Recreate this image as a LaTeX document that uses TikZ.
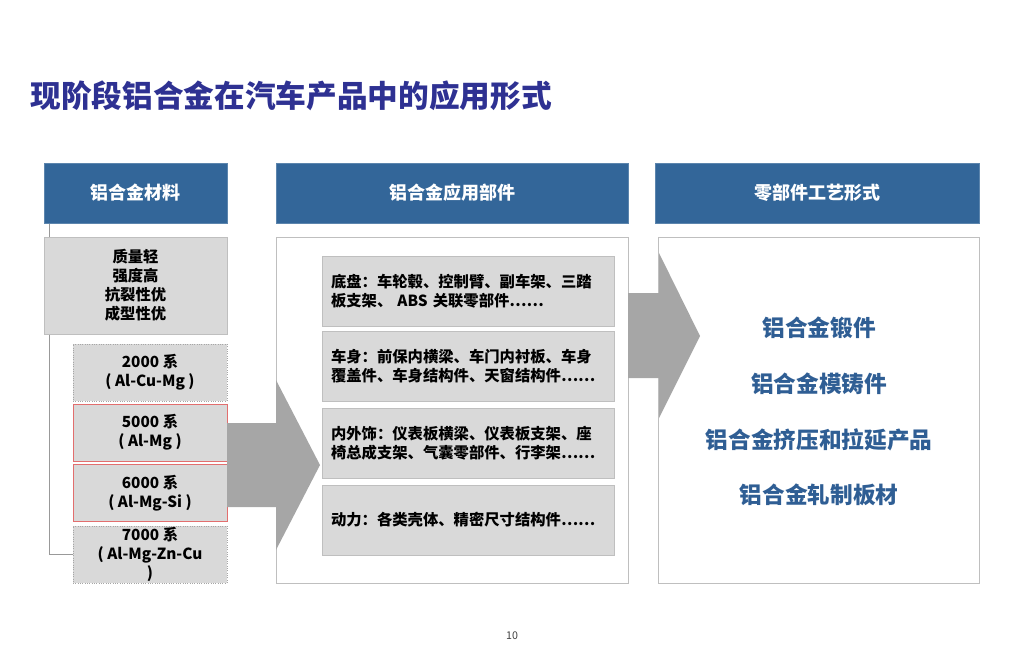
\documentclass[tikz,border=0pt]{standalone}
\usepackage{fontspec}
\setmainfont{Noto Sans CJK SC}
\usetikzlibrary{positioning}

\definecolor{hdrblue}{RGB}{51,102,153}
\definecolor{titleblue}{RGB}{46,49,146}
\definecolor{procblue}{RGB}{47,94,148}
\definecolor{boxgray}{RGB}{217,217,217}
\definecolor{edgegray}{RGB}{191,191,191}
\definecolor{arrowgray}{RGB}{166,166,166}
\definecolor{softred}{RGB}{226,110,110}

\tikzset{every picture/.style={line width=0.75pt}}
\tikzset{
  hdr/.style={draw=hdrblue!80!white, fill=hdrblue, text=white, minimum height=45pt, inner sep=0pt,
    font=\bfseries\fontsize{13.5}{16}\selectfont},
  graybox/.style={draw=edgegray, fill=boxgray, inner sep=0pt,
    font=\bfseries\fontsize{11.5}{14.25}\selectfont},
  serbox/.style={graybox, minimum width=115.5pt, minimum height=42.75pt, align=center},
  dotbox/.style={serbox, draw=gray!70, densely dotted},
  redbox/.style={serbox, draw=softred},
  panel/.style={draw=edgegray, fill=white, minimum height=259.5pt, inner sep=0pt},
  partbox/.style={graybox, minimum width=219pt, minimum height=52.5pt, inner xsep=6.75pt,
    text width=205.5pt, align=left},
  procText/.style={inner sep=0pt, text=procblue, font=\bfseries\fontsize{17}{20}\selectfont},
  treeline/.style={draw=gray!80, line width=0.6pt},
  bigarrow/.style={fill=arrowgray}
}

\begin{document}
\begin{tikzpicture}[x=0.75pt,y=0.75pt,yscale=-1,xscale=1]
\useasboundingbox (0,0) rectangle (1024,658);

% Text Node
\draw (30,96) node [anchor=west][inner sep=0pt][text=titleblue, font=\bfseries\fontsize{23}{28}\selectfont] (title) {现阶段铝合金在汽车产品中的应用形式};

%Shape: Rectangle [headers]
\node [hdr, minimum width=137.25pt] (hdrMat) at (135.5,193) {铝合金材料};
\node [hdr, minimum width=264pt] (hdrPart) at (452,193) {铝合金应用部件};
\node [hdr, minimum width=243pt] (hdrProc) at (817,193) {零部件工艺形式};

%Shape: Rectangle [material properties]
\node [graybox, minimum width=137.25pt, minimum height=72.75pt, align=center] (props) at (135.5,285.5) {质量轻\\强度高\\抗裂性优\\成型性优};

%Shape: Rectangle [alloy series]
\node [dotbox] (s2000) at (150,372.5) {2000 系\\( Al-Cu-Mg )};
\node [redbox] (s5000) at (150,432.5) {5000 系\\( Al-Mg )};
\node [redbox] (s6000) at (150,493) {6000 系\\( Al-Mg-Si )};
\node [dotbox] (s7000) at (150,554.5) {7000 系\\( Al-Mg-Zn-Cu\\)};

%Straight Lines [tree]
\draw [treeline] ([xshift=4.5pt]hdrMat.south west) -- ([xshift=4.5pt]props.north west);
\draw [treeline] ([xshift=4.5pt]props.south west) |- (s7000.west);

%Shape: Rectangle [parts panel]
\node [panel, minimum width=264pt] (partPanel) at (452,410) {};

%Shape: Block Arrow
\fill [bigarrow] (227,423) -- (276,423) -- (276,380) -- (320,465) -- (276,550) -- (276,507) -- (227,507) -- cycle;

%Shape: Rectangle [parts]
\node [partbox] (pChassis) at (468,291) {底盘：车轮毂、控制臂、副车架、三踏\\板支架、 ABS 关联零部件……};
\node [partbox] (pBody) at (468,366.5) {车身：前保内横梁、车门内衬板、车身\\覆盖件、车身结构件、天窗结构件……};
\node [partbox] (pTrim) at (468,443) {内外饰：仪表板横梁、仪表板支架、座\\椅总成支架、气囊零部件、行李架……};
\node [partbox] (pPower) at (468,520) {动力：各类壳体、精密尺寸结构件……};

%Shape: Rectangle [process panel]
\node [panel, minimum width=240.75pt] (procPanel) at (818.5,410) {};

%Shape: Block Arrow
\fill [bigarrow] (628,293) -- (659,293) -- (659,253) -- (700,336) -- (659,418) -- (659,378) -- (628,378) -- cycle;

% Text Node
\node [procText] (forge) at (819,328) {铝合金锻件};
\node [procText] (cast) at (819,384) {铝合金模铸件};
\node [procText] (extrude) at (819,440) {铝合金挤压和拉延产品};
\node [procText] (roll) at (819,495) {铝合金轧制板材};

% Text Node
\node [inner sep=0pt, text=black!75, font=\fontsize{8}{10}\selectfont] (pageNo) at (512,636) {10};

\end{tikzpicture}
\end{document}
